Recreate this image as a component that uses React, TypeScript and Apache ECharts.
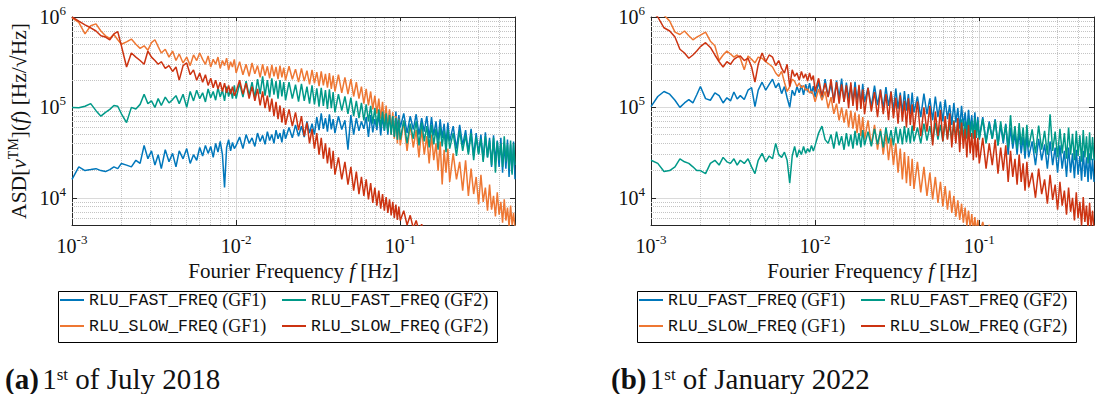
import React, { useEffect, useRef } from "react";
import * as echarts from "echarts";

// Frequency grid mantissas (decade 1: x1e-3 Hz, decade 2: x1e-2 Hz, decade 3: x1e-1 Hz)
const F_D1 = [1.0,1.1,1.2,1.3,1.4,1.5,1.6,1.7,1.8,1.9, 2.0,2.15,2.3,2.45,2.6,2.75,2.9,3.05,3.2,3.35, 3.5,3.7,3.9,4.1,4.3,4.5,4.75,5.0,5.25,5.5, 5.75,6.0,6.25,6.5,6.75,7.0,7.25,7.5,7.75,8.0, 8.25,8.5,8.75,9.0,9.25,9.5,9.75];
const F_D2 = [1.0,1.05,1.1,1.15,1.2,1.25,1.3,1.35,1.4,1.45, 1.5,1.55,1.6,1.65,1.7,1.75,1.8,1.85,1.9,1.95, 2.0,2.1,2.2,2.3,2.4,2.5,2.6,2.7,2.8,2.9, 3.0,3.1,3.2,3.3,3.4,3.5,3.6,3.7,3.8,3.9, 4.0,4.2,4.4,4.6,4.8,5.0,5.2,5.4,5.6,5.8, 6.0,6.2,6.4,6.6,6.8,7.0,7.2,7.4,7.6,7.8, 8.0,8.2,8.4,8.6,8.8,9.0,9.2,9.4,9.6,9.8];
const F_D3 = [1.0,1.05,1.1,1.15,1.2,1.25,1.3,1.35,1.4,1.45, 1.5,1.55,1.6,1.65,1.7,1.75,1.8,1.85,1.9,1.95, 2.0,2.1,2.2,2.3,2.4,2.5,2.6,2.7,2.8,2.9, 3.0,3.1,3.2,3.3,3.4,3.5,3.6,3.7,3.8,3.9, 4.0,4.1,4.2,4.3,4.4,4.5,4.6,4.7,4.8,4.9,5.0];

// ASD values in units of 1e3 Hz/sqrt(Hz)
// (a) 1st of July 2018
const A_FAST_GF1_D1 = [16,22,20,20.5,21,20,19.5,20.5,22,21, 24,23,22,26,24,38,27,33,23,30, 21,34,25,31,22,33,27,35,24,30, 26,36,29,38,31,37,28,40,32,42, 30,13,36,44,33,41,35];
const A_FAST_GF1_D2 = [38,47,35,50,40,46,37,52,42,49, 39,54,43,50,40,56,45,52,41,57, 45,60,46,64,48,62,47,70,52,66, 50,78,56,86,58,76,54,84,57,74, 52,80,57,72,34,82,50,76,55,70, 58,78,47,82,53,74,56,86,49,80, 55,84,50,88,57,80,48,90,55,82];
const A_FAST_GF1_D3 = [60,86,52,80,57,84,50,76,54,80, 46,78,49,70,43,74,46,66,40,68, 42,62,35,64,38,56,32,58,29,52, 31,50,26,53,28,46,22,49,25,43, 22,46,19,41,21,44,17,39,19,42,16];

const A_FAST_GF2_D1 = [100,99,103,110,92,80,88,95,105,103, 85,68,100,96,108,140,110,118,100,125, 105,130,112,122,135,110,140,100,150,118, 155,125,145,115,160,128,150,120,165,130, 155,118,170,132,160,125,175];
const A_FAST_GF2_D2 = [125,185,130,195,135,190,128,205,140,220, 135,200,130,210,138,195,125,200,132,190, 120,190,125,178,116,182,118,170,110,175, 108,162,102,165,104,155,96,158,98,148, 88,140,92,132,85,128,80,118,76,112, 72,108,70,104,66,98,62,95,60,90, 56,86,54,82,50,80,47,76,44,74];
const A_FAST_GF2_D3 = [44,72,40,66,45,70,38,68,42,62, 36,64,39,58,34,61,37,55,32,57, 35,52,29,55,33,49,30,52,26,47, 30,45,25,48,28,43,23,46,19,42, 26,40,22,48,25,39,21,43,18,40,23];

const A_SLOW_GF1_D1 = [980,870,650,800,840,700,620,580,640,560, 500,530,570,500,450,480,430,520,560,470, 400,440,360,420,330,390,310,360,290,380, 330,400,340,300,370,280,340,300,360,270, 330,290,350,260,320,280,340];
const A_SLOW_GF1_D2 = [240,320,230,300,220,310,235,290,215,300, 225,285,210,295,220,280,205,290,215,275, 200,285,205,265,190,270,195,255,180,260, 185,245,172,250,175,235,165,240,160,225, 150,230,145,215,140,205,132,190,125,170, 110,160,105,150,95,135,85,125,75,115, 65,105,58,95,50,88,45,80,40,75];
const A_SLOW_GF1_D3 = [38,70,33,64,36,56,28,58,30,48, 24,50,26,40,20,42,14,34,19,35, 15,31,16,25,12,26,10.5,21,11,17, 8.5,18,9,13,7.2,14,7.4,10.5,6.2,11.5, 6.5,9,5.3,9.6,5.6,7.8,4.8,8.2,5,6.8,4.5];

const A_SLOW_GF2_D1 = [1000,900,820,760,700,620,600,560,650,690, 480,280,400,360,330,300,420,360,330,300, 320,270,290,250,280,200,290,310,230,260, 200,240,190,230,175,210,165,200,160,190, 150,185,145,175,140,170,135];
const A_SLOW_GF2_D2 = [150,200,140,185,125,170,118,160,105,150, 98,135,90,125,80,115,74,105,68,98, 64,95,62,88,56,80,48,68,40,58, 35,52,30,46,27,40,24,36,21,33, 18,28,16,25,14,22,12,19.5,11,17, 10.5,16,9.6,14.5,8.8,13,8.2,12,7.6,11, 7.2,10.2,6.8,9.6,6.4,9,6,8.4,5.7,8];
const A_SLOW_GF2_D3 = [5.6,7.2,5.0,6.4,4.6,5.6,4.3,5.1,4.0,4.6, 3.8];

// (b) 1st of January 2022
const B_FAST_GF1_D1 = [102,132,150,140,120,100,112,122,112,138, 170,125,120,145,135,112,128,118,148,124, 135,122,155,165,102,155,190,155,180,205, 165,185,142,170,128,100,155,135,170,145, 175,138,180,150,185,142,172];
const B_FAST_GF1_D2 = [130,190,122,205,132,180,118,198,128,208, 115,188,125,176,112,192,120,170,108,182, 115,165,102,174,106,158,98,168,104,150, 92,162,97,146,86,152,92,140,84,146, 88,132,78,142,84,126,72,132,78,116, 70,122,74,106,64,112,68,98,58,104, 62,88,53,94,56,82,48,88,51,78];
const B_FAST_GF1_D3 = [46,78,42,70,45,74,38,64,40,66, 30,60,35,52,30,56,31,47,27,50, 28,42,23,45,26,39,21,42,23,36, 19,38,21,33,17,36,19,31,16.5,34, 18,29,15.5,33,17,28,15,31,16,27,15];

const B_FAST_GF2_D1 = [26,24,19.5,20,22,27,25,24,22,20, 20,18.5,24,26,23,28,25,24,27,23, 26,24,27,22,18.5,26,31,25,29,27, 40,30,28,32,26,14.5,29,37,28,34, 30,37,31,35,32,38,33];
const B_FAST_GF2_D2 = [38,52,62,44,40,50,35,54,38,48, 34,52,37,50,35,55,38,52,36,56, 38,54,37,58,39,55,36,60,40,56, 38,61,40,58,39,62,41,59,40,63, 42,60,40,66,43,62,41,68,44,64, 42,70,45,65,43,72,46,68,44,74, 46,70,45,75,47,71,45,76,46,72];
const B_FAST_GF2_D3 = [44,74,40,66,45,72,38,70,43,64, 36,82,40,62,35,67,38,60,33,64, 36,57,31,63,34,55,30,84,33,54, 28,58,31,52,27,60,30,51,26,55, 29,49,25,56,28,48,24,53,26,47,26];

const B_SLOW_GF1_D1 = [1250,1150,1050,900,680,640,700,620,560,600, 630,680,540,480,330,380,420,390,360,380, 350,260,370,340,310,360,350,320,300,280, 240,220,250,190,150,170,205,195,170,185, 165,175,155,160,145,150,138];
const B_SLOW_GF1_D2 = [115,160,120,150,98,130,85,110,72,100, 68,95,60,92,58,88,52,84,48,78, 44,72,38,64,34,58,30,52,26,46, 23,40,19,35,16,32,14.5,29,13.5,27, 12.5,25,11.5,22,10.5,19,9.6,17,8.8,15, 8,13.5,7.4,12,6.8,10.5,6.2,9.4,5.7,8.6, 5.3,7.8,4.9,7.2,4.6,6.6,4.3,6.1,4.1,5.7];
const B_SLOW_GF1_D3 = [3.9,5.4,3.7,5.0,3.5];

const B_SLOW_GF2_D1 = [1150,1000,760,700,600,440,400,350,380,420, 470,520,460,380,320,280,320,300,340,360, 370,330,350,280,190,300,400,320,380,360, 290,330,270,240,300,170,260,220,240,200, 250,210,235,195,240,200,225];
const B_SLOW_GF2_D2 = [150,210,135,185,130,205,112,190,110,180, 115,175,98,190,104,168,92,178,96,158, 84,165,90,148,78,156,84,140,72,150, 76,128,66,136,70,118,60,126,64,108, 55,116,48,100,54,104,38,90,48,94, 42,80,44,86,36,70,40,76,32,68, 35,58,28,64,31,52,26,56,28,46];
const B_SLOW_GF2_D3 = [24,46,21,40,23,44,18.5,36,20,38, 15,33,17,27,14,30,15,24,12,25, 13,19,10,21,11,16,8.6,18,9.5,14, 7.4,15,8.2,12,6.5,13,7,10,5.6,11.5, 6,9,4.9,10.2,5.4,8.2,4.5,8.8,4.8,7.2,4.3];

// Axis decoration values
const X_MIN = 0.001;
const X_MAX = 0.5;
const Y_MIN = 5000;
const Y_MAX = 1e6;
const X_MINOR = [0.002,0.003,0.004,0.005,0.006,0.007,0.008,0.009, 0.02,0.03,0.04,0.05,0.06,0.07,0.08,0.09, 0.2,0.3,0.4];
const Y_MINOR = [6000,7000,8000,9000, 20000,30000,40000,50000,60000,70000,80000,90000, 200000,300000,400000,500000,600000,700000,800000,900000];

const NAMES = ["RLU_FAST_FREQ (GF1)", "RLU_SLOW_FREQ (GF1)", "RLU_FAST_FREQ (GF2)", "RLU_SLOW_FREQ (GF2)"];
const COLORS = ["#0077BB", "#EE7733", "#009988", "#CC3311"];
const CAPTIONS = ["1st of July 2018", "1st of January 2022"];

const SERIF = "Liberation Serif";
const MONO = "Liberation Mono";
const INK = "#111111";

function zip(freqs: number[], scale: number, vals: number[]): [number, number][] {
  const out: [number, number][] = [];
  const n = Math.min(freqs.length, vals.length);
  for (let i = 0; i < n; i++) out.push([freqs[i] * scale, vals[i] * 1e3]);
  return out;
}
function build(d1: number[], d2: number[], d3: number[]) {
  return [...zip(F_D1, 1e-3, d1), ...zip(F_D2, 1e-2, d2), ...zip(F_D3, 1e-1, d3)];
}

const PANEL_DATA = [
  [build(A_FAST_GF1_D1, A_FAST_GF1_D2, A_FAST_GF1_D3), build(A_SLOW_GF1_D1, A_SLOW_GF1_D2, A_SLOW_GF1_D3), build(A_FAST_GF2_D1, A_FAST_GF2_D2, A_FAST_GF2_D3), build(A_SLOW_GF2_D1, A_SLOW_GF2_D2, A_SLOW_GF2_D3)],
  [build(B_FAST_GF1_D1, B_FAST_GF1_D2, B_FAST_GF1_D3), build(B_SLOW_GF1_D1, B_SLOW_GF1_D2, B_SLOW_GF1_D3), build(B_FAST_GF2_D1, B_FAST_GF2_D2, B_FAST_GF2_D3), build(B_SLOW_GF2_D1, B_SLOW_GF2_D2, B_SLOW_GF2_D3)],
];

function powLabel(v: number) {
  const l = Math.log10(v);
  const e = Math.round(l);
  if (Math.abs(l - e) > 1e-6) return "";
  return `{b|10}{e|${e}}`;
}
const labelRich = {
  b: { fontFamily: SERIF, fontSize: 20, lineHeight: 26, color: INK },
  e: { fontFamily: SERIF, fontSize: 13, lineHeight: 14, verticalAlign: "top", color: INK },
};

const PANEL_LEFT = [72, 651];
const GRID_TOP = 17;
const GRID_W = 443;
const GRID_H = 208;
const LEGEND_LEFT = [58, 637];

function buildOption() {
  const grid: any[] = [];
  const xAxis: any[] = [];
  const yAxis: any[] = [];
  const series: any[] = [];
  const legend: any[] = [];
  const graphic: any[] = [];
  const lineCol = "#262626";

  [0, 1].forEach((p) => {
    grid.push({ left: PANEL_LEFT[p], top: GRID_TOP, width: GRID_W, height: GRID_H });
    const common = {
      type: "log", logBase: 10, gridIndex: p,
      axisLine: { show: true, lineStyle: { color: lineCol, width: 1 } },
      axisTick: { show: true, inside: true, length: 5, lineStyle: { color: lineCol } },
      minorTick: { show: false },
    };
    xAxis.push({
      ...common, position: "bottom", min: X_MIN, max: X_MAX,
      axisLabel: { show: true, margin: 8, formatter: powLabel, rich: labelRich },
      splitLine: { show: true, lineStyle: { color: "#dadada", width: 1 } },
      name: "{n|Fourier Frequency }{i|f}{n| [Hz]}", nameLocation: "middle", nameGap: 32,
      nameTextStyle: { rich: {
        n: { fontFamily: SERIF, fontSize: 21, lineHeight: 24, color: INK },
        i: { fontFamily: SERIF, fontStyle: "italic", fontSize: 21, lineHeight: 24, color: INK },
      } },
    });
    xAxis.push({
      ...common, position: "top", min: X_MIN, max: X_MAX,
      axisLabel: { show: false }, splitLine: { show: false },
    });
    yAxis.push({
      ...common, position: "left", min: Y_MIN, max: Y_MAX,
      axisLabel: { show: true, margin: 6, formatter: powLabel, rich: labelRich },
      splitLine: { show: true, lineStyle: { color: "#dadada", width: 1 } },
      ...(p === 0 ? {
        name: "{n|ASD[}{i|ν}{s|TM}{n|](}{i|f}{n|) [Hz/√Hz]}",
        nameLocation: "middle", nameGap: 40,
        nameTextStyle: { rich: {
          n: { fontFamily: SERIF, fontSize: 21.5, lineHeight: 26, color: INK },
          i: { fontFamily: SERIF, fontStyle: "italic", fontSize: 21.5, lineHeight: 26, color: INK },
          s: { fontFamily: SERIF, fontSize: 14, lineHeight: 14, verticalAlign: "top", color: INK },
        } },
      } : {}),
    });
    yAxis.push({
      ...common, position: "right", min: Y_MIN, max: Y_MAX,
      axisLabel: { show: false }, splitLine: { show: false },
    });

    // minor dotted grid lines
    series.push({
      type: "line", data: [], xAxisIndex: p * 2, yAxisIndex: p * 2, silent: true,
      markLine: {
        silent: true, z: 1, precision: 6, symbol: ["none", "none"],
        label: { show: false }, emphasis: { disabled: true },
        lineStyle: { color: "#c4c4c4", type: "dotted", width: 1 },
        data: [...X_MINOR.map((v) => ({ xAxis: v })), ...Y_MINOR.map((v) => ({ yAxis: v }))],
      },
    });

    PANEL_DATA[p].forEach((data, k) => {
      series.push({
        type: "line", name: NAMES[k], data,
        xAxisIndex: p * 2, yAxisIndex: p * 2,
        symbol: "none", showSymbol: false, clip: true, silent: true,
        emphasis: { disabled: true }, z: 2,
        lineStyle: { color: COLORS[k], width: 1.5 },
        itemStyle: { color: COLORS[k] },
      });
    });

    const legRich = {
      m: { fontFamily: MONO, fontSize: 16.5, lineHeight: 20, color: INK },
      s: { fontFamily: SERIF, fontSize: 18, lineHeight: 20, color: INK },
    };
    const fmt = (name: string) => {
      const i = name.indexOf(" ");
      return `{m|${name.slice(0, i)}}{s| ${name.slice(i + 1)}}`;
    };
    [[NAMES[0], NAMES[1]], [NAMES[2], NAMES[3]]].forEach((names, c) => {
      legend.push({
        data: names, orient: "vertical",
        left: LEGEND_LEFT[p] + 2 + c * 222, top: 291,
        icon: "rect", itemWidth: 24, itemHeight: 2, itemGap: 8, padding: 0,
        selectedMode: false,
        formatter: fmt, textStyle: { rich: legRich },
      });
    });

    graphic.push({
      type: "rect", silent: true,
      shape: { x: LEGEND_LEFT[p] + 0.5, y: 291.5, width: 439, height: 51 },
      style: { fill: "none", stroke: "#000", lineWidth: 1 },
    });
    const cap = CAPTIONS[p];
    graphic.push({
      type: "text", silent: true, x: p === 0 ? 5 : 611, y: 379,
      style: {
        text: `{b|(${p === 0 ? "a" : "b"})} {r|${cap.slice(0, 1)}}{p|${cap.slice(1, 3)}}{r|${cap.slice(3)}}`,
        verticalAlign: "middle",
        rich: {
          b: { fontFamily: SERIF, fontWeight: "bold", fontSize: 29, lineHeight: 26, fill: INK },
          r: { fontFamily: SERIF, fontSize: 29, lineHeight: 26, fill: INK },
          p: { fontFamily: SERIF, fontSize: 17, lineHeight: 14, verticalAlign: "top", fill: INK },
        },
      },
    });
  });

  return {
    animation: false,
    backgroundColor: "#ffffff",
    textStyle: { fontFamily: SERIF },
    grid, xAxis, yAxis, series, legend, graphic,
  };
}

export default function App() {
  const ref = useRef<HTMLDivElement>(null);
  useEffect(() => {
    if (!ref.current) return;
    const chart = echarts.init(ref.current, null, { renderer: "svg" });
    chart.setOption(buildOption() as any);
    return () => chart.dispose();
  }, []);
  return (
    <div
      ref={ref}
      style={{ position: "fixed", left: 0, top: 0, width: 1103, height: 394, background: "#fff" }}
    />
  );
}
